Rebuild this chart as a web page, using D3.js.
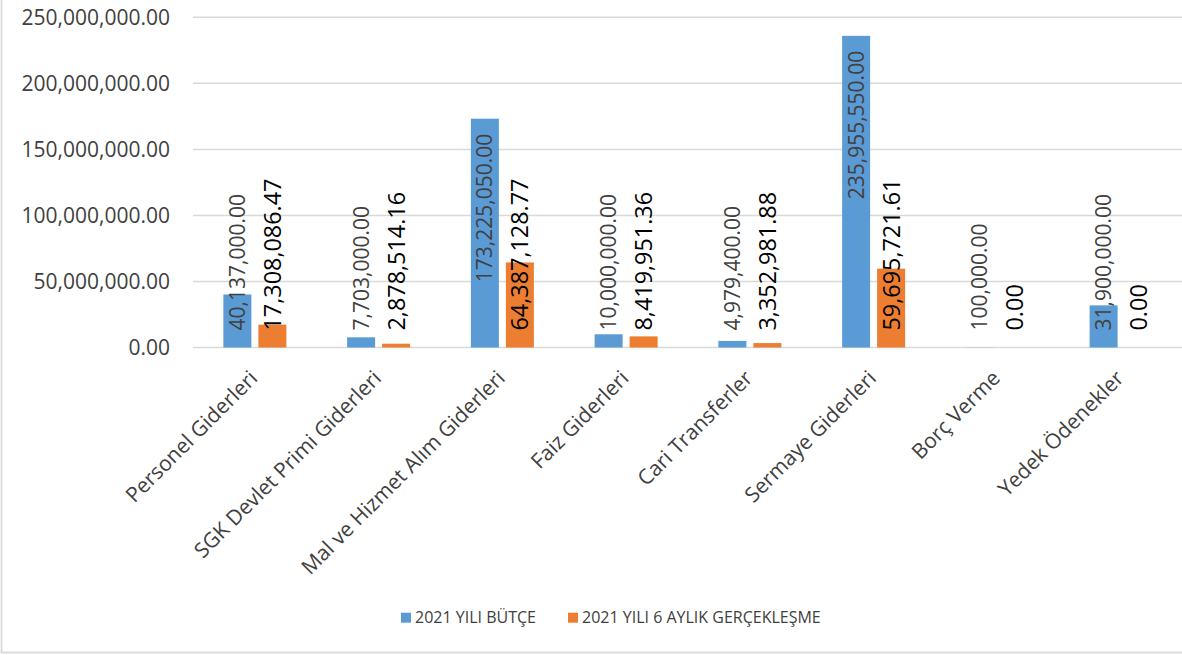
<!DOCTYPE html>
<html><head><meta charset="utf-8">
<script src="https://cdn.jsdelivr.net/npm/d3@7"></script>
<style>
html,body{margin:0;padding:0;background:#fff;}
svg{display:block;font-family:"Open Sans",sans-serif;}
</style></head>
<body>
<svg id="c" width="1182" height="655"></svg>
<script>
const categories = ["Personel Giderleri","SGK Devlet Primi Giderleri","Mal ve Hizmet Alım Giderleri","Faiz Giderleri","Cari Transferler","Sermaye Giderleri","Borç Verme","Yedek Ödenekler"];
const seriesNames = ["2021 YILI BÜTÇE","2021 YILI 6 AYLIK GERÇEKLEŞME"];
const budget = [40137000.00, 7703000.00, 173225050.00, 10000000.00, 4979400.00, 235955550.00, 100000.00, 31900000.00];
const actual = [17308086.47, 2878514.16, 64387128.77, 8419951.36, 3352981.88, 59695721.61, 0.00, 0.00];
const yTicks = [0, 50000000, 100000000, 150000000, 200000000, 250000000];
const colors = ["#5b9bd5", "#ed7d31"];

(function(){
const svg = d3.select("#c");
const W = 1182;
svg.append("rect").attr("x",1.5).attr("y",-5).attr("width",W+5).attr("height",652.5+5)
  .attr("fill","none").attr("stroke","#d9d9d9").attr("stroke-width",1.8);

const pLeft = 193, pRight = 1183, pTop = 17.3, pBottom = 347.5;
const x0 = d3.scaleBand().domain(categories).range([pLeft, pRight]).paddingInner(0).paddingOuter(0);
const y = d3.scaleLinear().domain([0, 250000000]).range([pBottom, pTop]);
const x1 = d3.scaleBand().domain(seriesNames)
  .range([x0.bandwidth()/2 - 31.5, x0.bandwidth()/2 + 31.5]).paddingInner(0.2).paddingOuter(0);

svg.append("g").selectAll("line").data(yTicks).join("line")
  .attr("x1", pLeft).attr("x2", W+5)
  .attr("y1", d => y(d)).attr("y2", d => y(d))
  .attr("stroke", "#d9d9d9").attr("stroke-width", 1.5);

const fmt = d3.format(",.2f");
const yAxis = svg.append("g").attr("transform", `translate(${pLeft},0)`)
  .call(d3.axisLeft(y).tickValues(yTicks).tickFormat(fmt).tickSize(0).tickPadding(23));
yAxis.select(".domain").remove();
yAxis.selectAll("text").attr("font-family","Open Sans").attr("font-size", 21).attr("fill", "#404040");

const data = categories.map((c,i) => ({cat:c, vals:[budget[i], actual[i]]}));

const groups = svg.append("g").selectAll("g").data(data).join("g")
  .attr("transform", d => `translate(${x0(d.cat)},0)`);
groups.selectAll("rect").data(d => d.vals.map((v,j)=>({v, s:seriesNames[j], j})))
  .join("rect")
  .attr("x", d => x1(d.s)).attr("width", x1.bandwidth())
  .attr("y", d => y(d.v)).attr("height", d => Math.max(0, pBottom - y(d.v)))
  .attr("fill", d => colors[d.j]);

const labelSize = [21, 23.4];
const labelColor = ["#404040", "#000000"];
groups.each(function(d){
  const g = d3.select(this);
  d.vals.forEach((v,j) => {
    const cx = x1(seriesNames[j]) + x1.bandwidth()/2;
    const t = g.append("text").text(fmt(v))
      .attr("font-size", labelSize[j]).attr("fill", labelColor[j])
      .attr("text-anchor", "start").attr("dy", "0.36em");
    const len = t.node().getComputedTextLength();
    const yb = Math.min(y(v) + 15 + len, pBottom - 17);
    t.attr("transform", `translate(${cx},${yb}) rotate(-90)`);
  });
});

svg.append("g").selectAll("text").data(categories).join("text")
  .attr("transform", d => `translate(${x0(d) + x0.bandwidth()/2 + 4},${pBottom + 32}) rotate(-45)`)
  .attr("text-anchor", "end")
  .attr("font-size", 21).attr("fill", "#404040")
  .text(d => d);

const legendX = [401, 568];
const lg = svg.append("g").selectAll("g").data(seriesNames).join("g")
  .attr("transform", (d,i) => `translate(${legendX[i]},612.7)`);
lg.append("rect").attr("width", 10).attr("height", 10).attr("fill", (d,i) => colors[i]);
lg.append("text").attr("x", 14).attr("y", 10.5).attr("font-size", 16).attr("fill", "#404040").text(d => d);
})();
</script>
</body></html>
